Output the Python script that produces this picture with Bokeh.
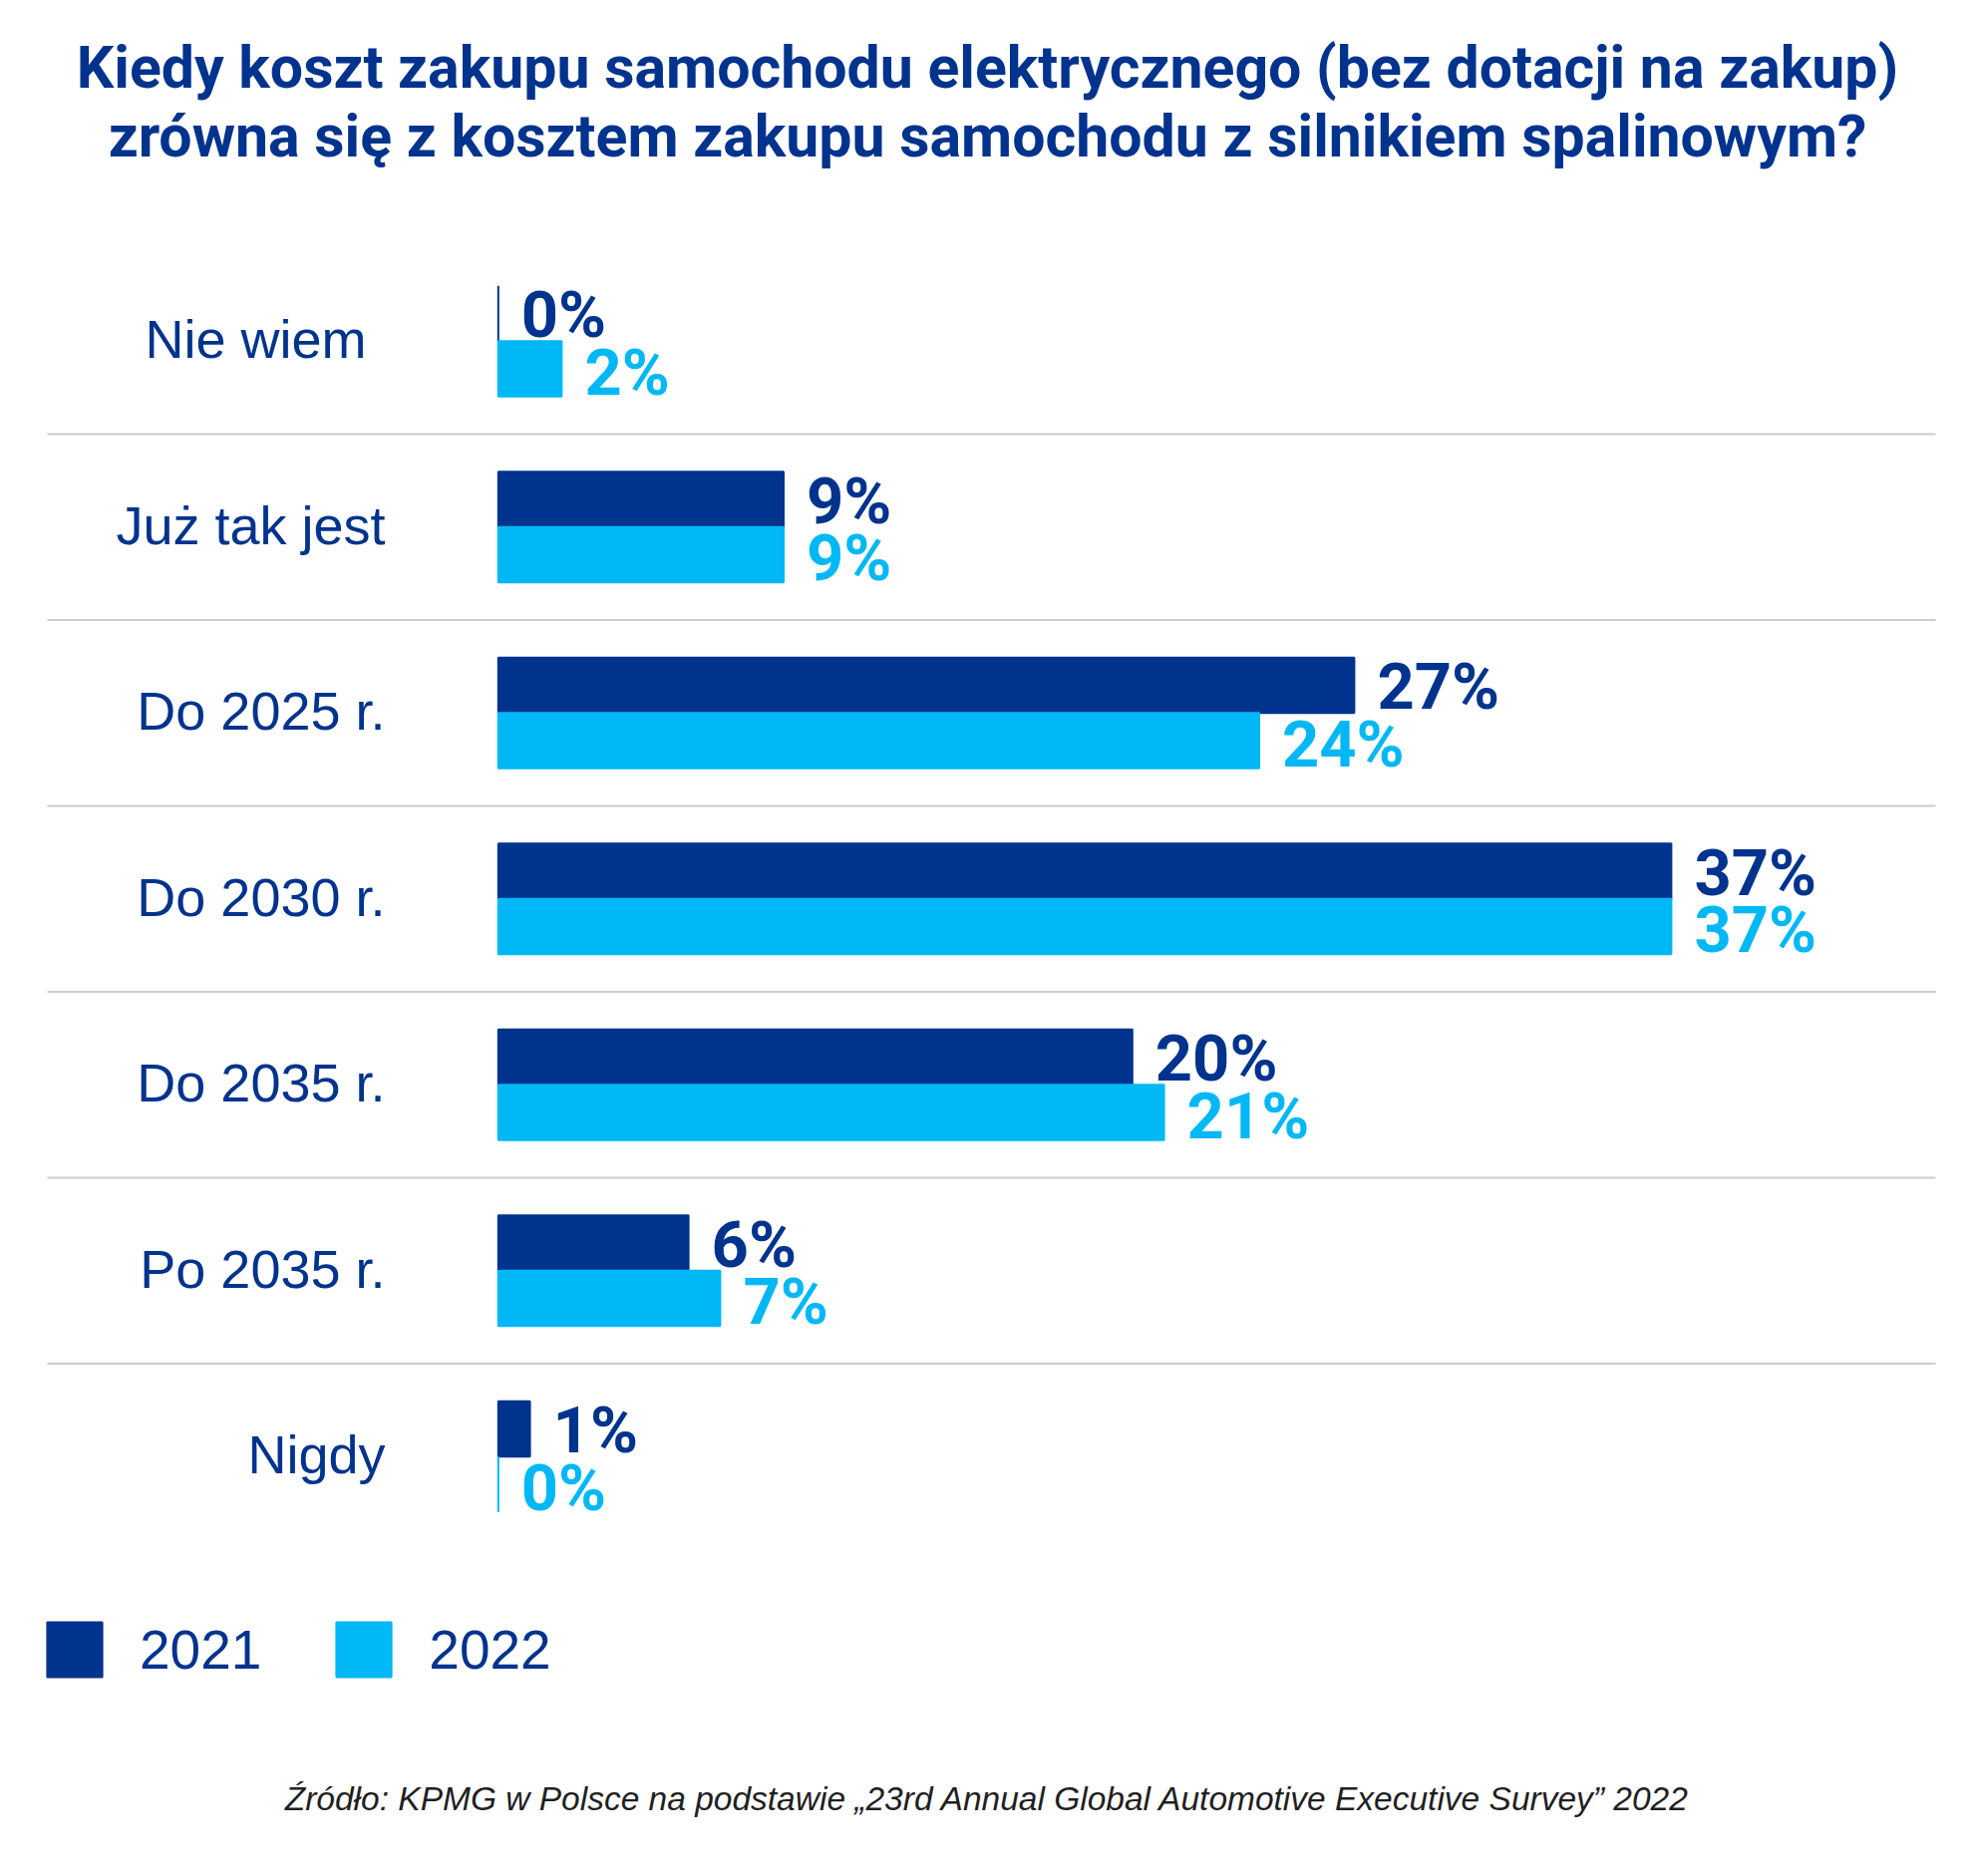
from bokeh.plotting import figure
from bokeh.models import Range1d, Legend, LegendItem, ColumnDataSource
from bokeh.core.properties import value
from bokeh.transform import dodge
from bokeh.embed import file_html
from bokeh.resources import INLINE

# ---------------- data ----------------
categories = ["Nie wiem", "Już tak jest", "Do 2025 r.", "Do 2030 r.",
              "Do 2035 r.", "Po 2035 r.", "Nigdy"]
values_2021 = [0, 9, 27, 37, 20, 6, 1]
values_2022 = [2, 9, 24, 37, 21, 7, 0]
series_names = ["2021", "2022"]
title_lines = [
    "Kiedy koszt zakupu samochodu elektrycznego (bez dotacji na zakup)",
    "zrówna się z kosztem zakupu samochodu z silnikiem spalinowym?",
]
source_text = ("Źródło: KPMG w Polsce na podstawie \u201e23rd Annual Global "
               "Automotive Executive Survey\u201d 2022")

# ---------------- layout ----------------
C21 = "#00338D"
C22 = "#00B8F5"
W, H = 1964, 1866
M = 0
PX_PER_PCT = 31.8
ZERO_PX = 499.3
ROW_PX = 186.5
FIRST_ROW_PX = 341.7
K = 0.33  # baseline correction (fraction of font size)
LABEL_SHIFT = {"Nie wiem": -19}  # per-label horizontal nudge (px)

x_start = -(ZERO_PX - M) / PX_PER_PCT
x_end = x_start + W / PX_PER_PCT
y_top = -(FIRST_ROW_PX - M) / ROW_PX
y_bottom = y_top + H / ROW_PX


def dx(px):
    return x_start + (px - M) / PX_PER_PCT


def dy(py):
    return y_top + (py - M) / ROW_PX


BH = 55.5 / ROW_PX

n = len(categories)
src = ColumnDataSource(dict(
    y=list(range(n)),
    cat=categories,
    v21=values_2021,
    v22=values_2022,
    l21=[f"{v}%" for v in values_2021],
    l22=[f"{v}%" for v in values_2022],
    cat_x=[dx(386 + LABEL_SHIFT.get(c, 0)) for c in categories],
))

p = figure(width=W, height=H,
           x_range=Range1d(x_start, x_end),
           y_range=Range1d(y_bottom, y_top),
           output_backend="svg", toolbar_location=None,
           x_axis_location=None, y_axis_location=None,
           min_border=0, outline_line_color=None)
p.grid.visible = False
p.background_fill_color = "white"
p.border_fill_color = "white"

# separators between categories
seps = [i + 0.5 for i in range(n - 1)]
p.segment(x0=[dx(47)] * len(seps), x1=[dx(1941)] * len(seps),
          y0=seps, y1=seps, line_color="#cccccc", line_width=2)

r21 = p.hbar(y=dodge("y", -BH / 2), left=0, right="v21", height=BH,
             fill_color=C21, line_color=C21, line_width=2, source=src)
r22 = p.hbar(y=dodge("y", BH / 2), left=0, right="v22", height=BH,
             fill_color=C22, line_color=C22, line_width=2, source=src)

VS = 65
val_font = value("Roboto")
p.text(x="v21", y=dodge("y", -BH / 2), text="l21", source=src,
       x_offset=23, y_offset=23 - K * VS, text_font=val_font,
       text_font_style="bold", text_font_size=f"{VS}px", text_color=C21,
       text_align="left", text_baseline="alphabetic")
p.text(x="v22", y=dodge("y", BH / 2), text="l22", source=src,
       x_offset=23, y_offset=25 - K * VS, text_font=val_font,
       text_font_style="bold", text_font_size=f"{VS}px", text_color=C22,
       text_align="left", text_baseline="alphabetic")

# category labels
CS = 54
p.text(x="cat_x", y="y", text="cat", source=src, y_offset=16 - K * CS,
       text_font=value("Liberation Sans"), text_font_size=f"{CS}px",
       text_color=C21, text_align="right", text_baseline="alphabetic")

# title
TS = 59
p.text(x=[dx(990)] * 2, y=[dy(86), dy(155)], text=title_lines,
       y_offset=-K * TS,
       text_font=value("Roboto"), text_font_style="bold",
       text_font_size=f"{TS}px", text_color=C21, text_align="center",
       text_baseline="alphabetic")

# source
SS = 33.5
p.text(x=[dx(990)], y=[dy(1815)], text=[source_text], y_offset=-K * SS,
       text_font=value("Liberation Sans"), text_font_style="italic",
       text_font_size=f"{SS}px", text_color="#1f1f1f", text_align="center",
       text_baseline="alphabetic")

legend = Legend(items=[LegendItem(label=series_names[0], renderers=[r21]),
                       LegendItem(label=series_names[1], renderers=[r22])],
                orientation="horizontal", location=(40, 177),
                glyph_width=69, glyph_height=69, label_standoff=31,
                spacing=68, padding=0, margin=0,
                border_line_color=None, background_fill_alpha=0,
                label_text_font="Liberation Sans",
                label_text_font_size="55px", label_text_color=C21)
p.add_layout(legend)

open("out.html", "w").write(file_html(p, INLINE))
